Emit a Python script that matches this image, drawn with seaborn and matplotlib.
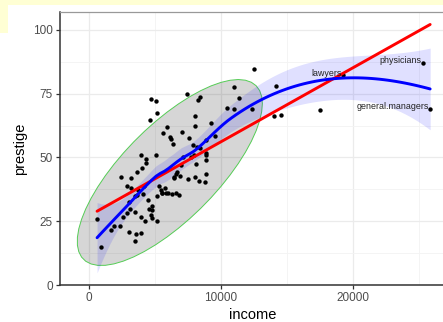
import numpy as np
import pandas as pd
import seaborn as sns
import matplotlib
matplotlib.use('Agg')
import matplotlib.pyplot as plt
from matplotlib.patches import Polygon, Rectangle

# Data -----------------------------------------------------------------------------------------------------------------
occupation = ['gov.administrators', 'general.managers', 'accountants', 'purchasing.officers', 'chemists',
              'physicists', 'biologists', 'architects', 'civil.engineers', 'mining.engineers', 'surveyors',
              'draughtsmen', 'computer.programers', 'economists', 'psychologists', 'social.workers', 'lawyers',
              'librarians', 'vocational.counsellors', 'ministers', 'university.teachers',
              'primary.school.teachers', 'secondary.school.teachers', 'physicians', 'veterinarians',
              'osteopaths.chiropractors', 'nurses', 'nursing.aides', 'physio.therapsts', 'pharmacists',
              'medical.technicians', 'commercial.artists', 'radio.tv.announcers', 'athletes', 'secretaries',
              'typists', 'bookkeepers', 'tellers.cashiers', 'computer.operators', 'shipping.clerks',
              'file.clerks', 'receptionsts', 'mail.carriers', 'postal.clerks', 'telephone.operators',
              'collectors', 'claim.adjustors', 'travel.clerks', 'office.clerks', 'sales.supervisors',
              'commercial.travellers', 'sales.clerks', 'newsboys', 'service.station.attendant',
              'insurance.agents', 'real.estate.salesmen', 'buyers', 'firefighters', 'policemen', 'cooks',
              'bartenders', 'funeral.directors', 'babysitters', 'launderers', 'janitors', 'elevator.operators',
              'farmers', 'farm.workers', 'rotary.well.drillers', 'bakers', 'slaughterers.1', 'slaughterers.2',
              'canners', 'textile.weavers', 'textile.labourers', 'tool.die.makers', 'machinists',
              'sheet.metal.workers', 'welders', 'auto.workers', 'aircraft.workers', 'electronic.workers',
              'radio.tv.repairmen', 'sewing.mach.operators', 'auto.repairmen', 'aircraft.repairmen',
              'railway.sectionmen', 'electrical.linemen', 'electricians', 'construction.foremen', 'carpenters',
              'masons', 'house.painters', 'plumbers', 'construction.labourers', 'pilots', 'train.engineers',
              'bus.drivers', 'taxi.drivers', 'longshoremen', 'typesetters', 'bookbinders']
income = [12351, 25879, 9271, 8865, 8403, 11030, 8258, 14163, 11377, 11023, 5902,
          7059, 8425, 8049, 7405, 6336, 19263, 6112, 9593, 4686, 12480,
          5648, 8034, 25308, 14558, 17498, 4614, 3485, 5092, 10432,
          5180, 6197, 7562, 8206, 4036, 3148, 4348, 2448, 4330, 4761,
          3016, 2901, 5511, 3739, 3161, 4741, 5052, 6259, 4075, 7482,
          8780, 2594, 918, 2370, 8131, 6992, 7956, 8895, 8891, 3116,
          3930, 7869, 611, 3000, 3472, 3582, 3643, 1656, 6860, 4199, 5134, 5134,
          1890, 4443, 3485, 8043, 6686, 6565, 6477, 5811, 6573, 3942,
          5449, 2847, 5795, 7716, 4696, 8316, 7147, 8880, 5299,
          5959, 4549, 6928, 3910, 14032, 8845, 5562, 4224, 4753, 6462, 3617]
prestige = [68.8, 69.1, 63.4, 56.8, 73.5, 77.6, 72.6, 78.1, 73.1, 68.8, 62.0,
            60.0, 53.8, 62.2, 74.9, 55.1, 82.3, 58.1, 58.3, 72.8, 84.6,
            59.6, 66.1, 87.2, 66.7, 68.4, 64.7, 34.9, 72.1, 69.3,
            67.5, 57.2, 57.6, 54.1, 46.0, 41.9, 49.4, 42.3, 47.7, 30.9,
            32.7, 38.7, 36.1, 37.2, 38.1, 29.4, 51.1, 35.7, 35.6, 41.5,
            40.2, 26.5, 14.8, 23.3, 47.3, 47.1, 51.1, 43.5, 51.6, 29.7,
            20.2, 54.9, 25.9, 20.8, 17.3, 20.1, 44.1, 21.5, 35.3, 38.9, 25.2, 34.8,
            23.2, 33.3, 28.8, 42.5, 44.2, 35.9, 41.8, 35.9, 43.7, 50.8,
            37.2, 28.2, 38.1, 50.3, 27.3, 40.9, 50.2, 51.1, 38.9,
            36.2, 29.9, 42.9, 26.5, 66.1, 48.9, 35.9, 25.1, 26.1, 42.2, 35.2]
labelled = ['lawyers', 'physicians', 'general.managers']

df = pd.DataFrame({'occupation': occupation, 'income': income, 'prestige': prestige})
x = df['income'].values.astype(float)
y = df['prestige'].values.astype(float)


# Loess (span 0.75, degree 2, interpolated surface) --------------------------------------------------------------------
def local_rows(xd, xe, span=0.75):
    n = len(xd)
    q = int(np.floor(n * span))
    L = np.zeros((len(xe), n))
    D = np.zeros((len(xe), n))
    for i, x0 in enumerate(xe):
        d = np.abs(xd - x0)
        h = np.sort(d)[q - 1]
        w = np.clip(1 - (d / h) ** 3, 0, None) ** 3
        u = (xd - x0) / 1000.
        X = np.column_stack([np.ones(n), u, u ** 2])
        XtW = X.T * w
        B = np.linalg.solve(XtW @ X, XtW)
        L[i] = B[0]
        D[i] = B[1] / 1000.
    return L, D


def kd_splits(xs, l, u, fc):
    if u - l + 1 <= fc:
        return []
    m = (l + u) // 2
    t = (xs[m - 1] + xs[m]) / 2.
    return kd_splits(xs, l, m, fc) + [t] + kd_splits(xs, m + 1, u, fc)


def loess_matrix(xd, xe, span=0.75, cell=0.2):
    xs = np.sort(xd)
    n = len(xd)
    mu = 0.005 * (xs[-1] - xs[0])
    fc = int(np.floor(n * span * cell))
    verts = np.array([xs[0] - mu] + kd_splits(xs, 1, n, fc) + [xs[-1] + mu])
    Lv, Dv = local_rows(xd, verts, span)
    out = np.zeros((len(xe), n))
    for i, x0 in enumerate(xe):
        j = min(max(np.searchsorted(verts, x0) - 1, 0), len(verts) - 2)
        a, b = verts[j], verts[j + 1]
        hh = b - a
        s = (x0 - a) / hh
        h00 = 2 * s ** 3 - 3 * s ** 2 + 1
        h10 = s ** 3 - 2 * s ** 2 + s
        h01 = -2 * s ** 3 + 3 * s ** 2
        h11 = s ** 3 - s ** 2
        out[i] = h00 * Lv[j] + h10 * hh * Dv[j] + h01 * Lv[j + 1] + h11 * hh * Dv[j + 1]
    return out


L_data = loess_matrix(x, x)
M = np.eye(len(x)) - L_data
one_delta = np.trace(M.T @ M)
sigma = np.sqrt(np.sum((M @ y) ** 2) / one_delta)
x_grid = np.linspace(x.min(), x.max(), 80)
L_grid = loess_matrix(x, x_grid)
fit = L_grid @ y
se = sigma * np.sqrt(np.sum(L_grid ** 2, axis=1))
lo, hi = fit - 1.985 * se, fit + 1.985 * se


# Robust t ellipse (like stat_ellipse) ---------------------------------------------------------------------------------
def cov_trob(xy, nu=5, maxit=25, tol=0.01):
    n, p = xy.shape
    loc = xy.mean(axis=0)
    w = np.ones(n)
    for _ in range(maxit):
        w0 = w
        X = xy - loc
        _, d, vt = np.linalg.svd(np.sqrt(w / w.sum())[:, None] * X, full_matrices=False)
        wX = X @ vt.T / d
        Q = (wX ** 2).sum(axis=1)
        w = (nu + p) / (nu + Q)
        loc = (w[:, None] * xy).sum(axis=0) / w.sum()
        if np.all(np.abs(w - w0) < tol):
            break
    sX = np.sqrt(w)[:, None] * X
    return loc, sX.T @ sX / n


xy = np.column_stack([x, y])
center, shape = cov_trob(xy)
dfd = len(x) - 1
f95 = dfd / 2. * (0.05 ** (-2. / dfd) - 1)
radius = np.sqrt(2 * f95)
angles = np.arange(52) * 2 * np.pi / 51
circle = np.column_stack([np.cos(angles), np.sin(angles)])
ellipse = center + radius * circle @ np.linalg.cholesky(shape).T

# Plot -----------------------------------------------------------------------------------------------------------------
sns.set_style('white')
plt.rcParams['font.family'] = ['Liberation Sans', 'DejaVu Sans']

fig = plt.figure(figsize=(4.43, 3.22), dpi=100)
fig.patches.append(Rectangle((0, 1 - 4.5 / 322), 1, 4.5 / 322, transform=fig.transFigure,
                             facecolor='#FFFFD4', edgecolor='none', zorder=-5))
fig.patches.append(Rectangle((0, 1 - 33 / 322), 7.5 / 443, 33 / 322, transform=fig.transFigure,
                             facecolor='#FFFFD4', edgecolor='none', zorder=-5))

ax = fig.add_axes([60 / 443, 37 / 322, 390 / 443, 273 / 322])

ax.add_patch(Polygon(ellipse, closed=True, facecolor='black', alpha=0.16, edgecolor='none', zorder=1))
ax.add_patch(Polygon(ellipse, closed=True, facecolor='none', edgecolor='#55CC55', linewidth=0.7, zorder=1.1))

ax.fill_between(x_grid, lo, hi, color='blue', alpha=0.12, linewidth=0, zorder=2)
sns.scatterplot(data=df, x='income', y='prestige', color='black', s=10, linewidth=0, ax=ax, zorder=3)
sns.regplot(data=df, x='income', y='prestige', scatter=False, ci=None, color='red',
            line_kws={'linewidth': 2.1, 'zorder': 4}, ax=ax)
ax.plot(x_grid, fit, color='blue', linewidth=2.1, zorder=5)

for name in labelled:
    row = df[df['occupation'] == name].iloc[0]
    ax.annotate(name, (row['income'], row['prestige']), xytext=(-1, 2), textcoords='offset pixels',
                ha='right', va='center', fontsize=6.4, color='#222222', zorder=6)

ax.set_xlim(-2200, 27384)
ax.set_ylim(0, 107)
ax.set_xticks([0, 10000, 20000])
ax.set_yticks([0, 25, 50, 75, 100])
ax.set_xticks([5000, 15000, 25000], minor=True)
ax.set_yticks([12.5, 37.5, 62.5, 87.5], minor=True)
ax.grid(which='major', color='#EBEBEB', linewidth=0.9)
ax.grid(which='minor', color='#F3F3F3', linewidth=0.6)
ax.set_axisbelow(True)

for side in ['left', 'bottom']:
    ax.spines[side].set_color('#333333')
    ax.spines[side].set_linewidth(1.1)
ax.spines['top'].set_color('#999999')
ax.spines['top'].set_linewidth(0.9)
ax.spines['right'].set_visible(False)

ax.tick_params(which='major', direction='out', length=3, width=0.9, color='#333333',
               labelcolor='#4D4D4D', labelsize=8.5, pad=2, left=True, bottom=True)
ax.tick_params(which='minor', length=0)

ax.set_xlabel('income', fontsize=10.5, color='black')
ax.set_ylabel('prestige', fontsize=10.5, color='black')
ax.xaxis.set_label_coords(0.495, -0.086)
ax.yaxis.set_label_coords(-0.085, 0.5)

fig.savefig('out.png', dpi=100)
